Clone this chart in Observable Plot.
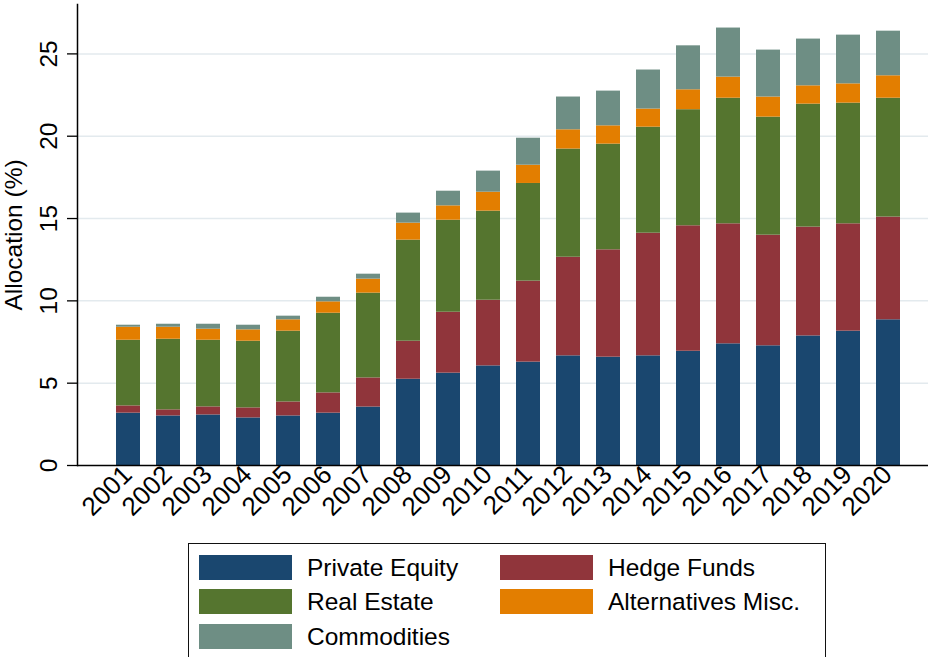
<!DOCTYPE html>
<html><head><meta charset="utf-8">
<script src="https://cdn.jsdelivr.net/npm/d3@7"></script>
<script src="https://cdn.jsdelivr.net/npm/@observablehq/plot@0.6"></script>
<style>
body{margin:0;background:#fff;font-family:"Liberation Sans",Arial,sans-serif;}
#wrap{position:relative;width:928px;height:657px;overflow:hidden;}
#chart{position:absolute;left:0;top:0;}
#legend{position:absolute;left:188px;top:543px;width:638px;height:130px;border:1.5px solid #111;box-sizing:border-box;}
.item{position:absolute;display:flex;align-items:center;font-size:24.5px;color:#000;white-space:nowrap;height:25px;}
.sw{width:93px;height:25px;margin-right:15px;flex:none;}
</style></head>
<body><div id="wrap"><div id="chart"></div><div id="legend"></div></div>
<script>
const years = ["2001","2002","2003","2004","2005","2006","2007","2008","2009","2010","2011","2012","2013","2014","2015","2016","2017","2018","2019","2020"];
const seriesNames = ["Private Equity","Hedge Funds","Real Estate","Alternatives Misc.","Commodities"];
const seriesColors = ["#1a476f","#90353b","#55752f","#e37e00","#6e8e84"];
const privateEquity = [3.18,3.01,3.07,2.89,3.01,3.18,3.55,5.24,5.61,6.05,6.28,6.66,6.58,6.66,6.94,7.39,7.27,7.87,8.16,8.85];
const hedgeFunds    = [0.44,0.37,0.49,0.61,0.85,1.23,1.77,2.31,3.70,3.99,4.92,5.99,6.52,7.45,7.62,7.29,6.72,6.61,6.52,6.24];
const realEstate    = [3.99,4.29,4.05,4.05,4.30,4.84,5.15,6.14,5.59,5.41,5.93,6.57,6.42,6.44,7.05,7.63,7.17,7.47,7.33,7.22];
const altMisc       = [0.79,0.73,0.67,0.69,0.69,0.69,0.85,1.03,0.87,1.15,1.11,1.17,1.11,1.10,1.21,1.28,1.22,1.11,1.17,1.36];
const commodities   = [0.12,0.18,0.30,0.28,0.22,0.28,0.30,0.61,0.89,1.28,1.64,1.99,2.11,2.37,2.67,2.98,2.85,2.84,2.96,2.71];
const yTicks = [0,5,10,15,20,25];
const gridTicks = [5,10,15,20,25];

const seriesValues = [privateEquity, hedgeFunds, realEstate, altMisc, commodities];
const data = [];
years.forEach((yr, i) => {
  seriesNames.forEach((s, j) => data.push({year: yr, series: s, value: seriesValues[j][i]}));
});

const font = "Liberation Sans, Arial, sans-serif";
const chart = Plot.plot({
  width: 928, height: 545,
  marginLeft: 77, marginRight: 0, marginTop: 4, marginBottom: 80,
  style: {fontFamily: font, fontSize: "24px", background: "transparent", color: "#000"},
  x: {domain: years, paddingInner: 0.39, paddingOuter: 0.6, align: 0.59, label: null},
  y: {domain: [0, 28], label: null},
  color: {domain: seriesNames, range: seriesColors},
  marks: [
    Plot.gridY(gridTicks, {stroke: "#e3eaee", strokeOpacity: 1, strokeWidth: 1.5}),
    Plot.barY(data, {x: "year", y: "value", fill: "series", order: seriesNames}),
    Plot.axisX({tickSize: 0, tickRotate: -45, fontSize: 26, tickPadding: 5, dx: -1, label: null}),
    Plot.axisY({ticks: yTicks, tickSize: 10, tickPadding: 11, tickRotate: -90, textAnchor: "middle", lineAnchor: "bottom", fontSize: 24.5, label: null, strokeWidth: 1.3}),
    Plot.ruleY([0], {stroke: "#000", strokeWidth: 1.5}),
    Plot.frame({anchor: "left", stroke: "#000", strokeWidth: 1.5}),
    Plot.text(["Allocation (%)"], {frameAnchor: "left", rotate: -90, dx: -56, textAnchor: "middle", lineAnchor: "bottom", fontSize: 24.5})
  ]
});
document.getElementById("chart").appendChild(chart);

// legend
const legend = document.getElementById("legend");
const legendPos = [
  {left: 10, top: 11}, {left: 311, top: 11},
  {left: 10, top: 45}, {left: 311, top: 45},
  {left: 10, top: 80}
];
const legendOrder = ["Private Equity","Hedge Funds","Real Estate","Alternatives Misc.","Commodities"];
legendOrder.forEach((name, k) => {
  const d = document.createElement("div");
  d.className = "item";
  d.style.left = legendPos[k].left + "px";
  d.style.top = legendPos[k].top + "px";
  const sw = document.createElement("div");
  sw.className = "sw";
  sw.style.background = seriesColors[seriesNames.indexOf(name)];
  const t = document.createElement("span");
  t.textContent = name;
  d.appendChild(sw); d.appendChild(t);
  legend.appendChild(d);
});
</script>
</body></html>
